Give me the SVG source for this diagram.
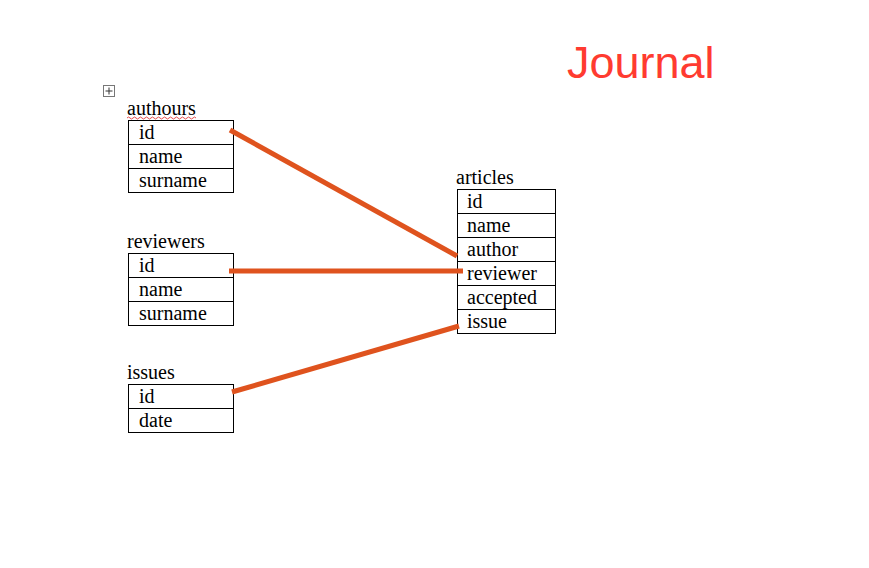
<svg xmlns="http://www.w3.org/2000/svg" width="869" height="568" viewBox="0 0 869 568">
<style>
.t{font-family:"Liberation Serif","Times New Roman",serif;font-size:20px;fill:#000}
.box{fill:#fff;stroke:#000;stroke-width:1}
.ln{stroke:#000;stroke-width:1}
.c{stroke:#DF531E;stroke-width:5;fill:none;stroke-linecap:butt}
</style>
<rect width="869" height="568" fill="#fff"/>
<text x="567" y="78" font-family="'Liberation Sans',Arial,sans-serif" font-size="45" fill="#FF3B30">Journal</text>
<g id="icon">
<rect x="103.5" y="85.5" width="11" height="11" fill="#fff" stroke="#777" stroke-width="1"/>
<path d="M109 87.5v7M105.5 91h7" stroke="#333" stroke-width="1"/>
</g>
<g id="authours">
<text class="t" x="127" y="115">authours</text>
<path d="M127 118 q1.5 -2 3 0 t3 0 t3 0 t3 0 t3 0 t3 0 t3 0 t3 0 t3 0 t3 0 t3 0 t3 0 t3 0 t3 0 t3 0 t3 0 t3 0 t3 0 t3 0 t3 0 t3 0 t3 0 t3 0" stroke="#E02020" stroke-width="0.8" fill="none"/>
<rect class="box" x="128.5" y="120.5" width="105" height="72"/>
<path class="ln" d="M128.5 144.5h105M128.5 168.5h105"/>
<text class="t" x="139" y="139">id</text>
<text class="t" x="139" y="163">name</text>
<text class="t" x="139" y="187">surname</text>
</g>
<g id="reviewers">
<text class="t" x="127" y="248">reviewers</text>
<rect class="box" x="128.5" y="253.5" width="105" height="72"/>
<path class="ln" d="M128.5 277.5h105M128.5 301.5h105"/>
<text class="t" x="139" y="272">id</text>
<text class="t" x="139" y="296">name</text>
<text class="t" x="139" y="320">surname</text>
</g>
<g id="issues">
<text class="t" x="127" y="379">issues</text>
<rect class="box" x="128.5" y="384.5" width="105" height="48"/>
<path class="ln" d="M128.5 408.5h105"/>
<text class="t" x="139" y="403">id</text>
<text class="t" x="139" y="427">date</text>
</g>
<g id="articles">
<text class="t" x="456" y="184">articles</text>
<rect class="box" x="457.5" y="189.5" width="98" height="144"/>
<path class="ln" d="M457.5 213.5h98M457.5 237.5h98M457.5 261.5h98M457.5 285.5h98M457.5 309.5h98"/>
<text class="t" x="467" y="208">id</text>
<text class="t" x="467" y="232">name</text>
<text class="t" x="467" y="256">author</text>
<text class="t" x="467" y="280">reviewer</text>
<text class="t" x="467" y="304">accepted</text>
<text class="t" x="467" y="328">issue</text>
</g>
<g id="connectors">
<line class="c" x1="230" y1="130" x2="457" y2="256"/>
<line class="c" x1="229" y1="271" x2="463" y2="271"/>
<line class="c" x1="232" y1="392" x2="459" y2="326"/>
</g>
</svg>
